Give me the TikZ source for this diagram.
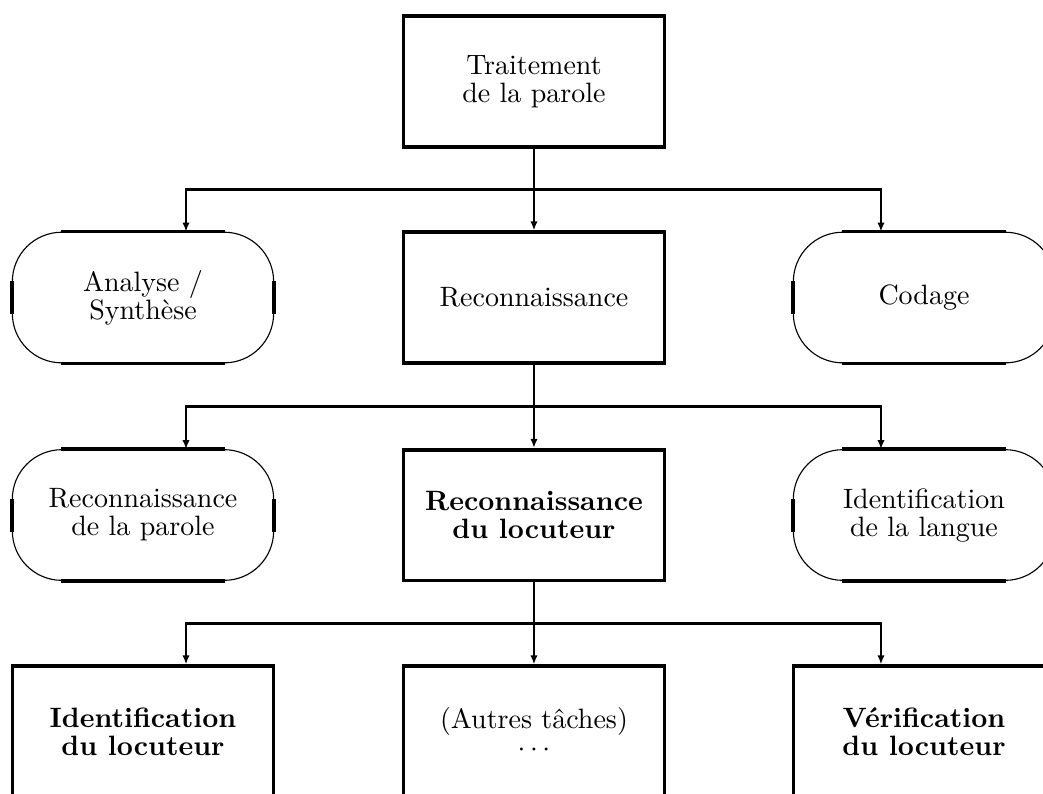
\documentclass[tikz,border=0pt]{standalone}
\usepackage{tikz}
\usetikzlibrary{
  arrows.meta,
  calc
}
\tikzset{
  every task/.style={minimum width=3.28cm,minimum height=1.64cm,align=center,inner sep=0pt,
    font=\fontsize{10}{10}\selectfont},
  task box/.style={every task,draw,line width=1.3pt},
  key task/.style={task box,font=\fontsize{10}{10}\selectfont\bfseries},
  task oval/.style={every task,draw,line width=0.4pt,rounded corners=0.62cm},
  oval side/.style={line width=1.3pt},
  to task/.style={line width=0.9pt,-{Latex[length=3.2pt,width=2.6pt]}},
}

\begin{document}
\begin{tikzpicture}
\clip (0,0) rectangle (13.093,-9.967);
\node[task box]  (trait)     at (6.703,-1.023) {Traitement\\de la parole};
\node[task oval] (anasyn)    at (1.795,-3.735) {Analyse /\\Synthèse};
\node[task box]  (reco)      at (6.703,-3.735) {Reconnaissance};
\node[task oval] (codage)    at (11.599,-3.735) {Codage};
\node[task oval] (recparole) at (1.795,-6.465) {Reconnaissance\\de la parole};
\node[key task]  (recloc)    at (6.703,-6.465) {Reconnaissance\\du locuteur};
\node[task oval] (idlangue)  at (11.599,-6.465) {Identification\\de la langue};
\node[key task]  (idloc)     at (1.795,-9.183) {Identification\\du locuteur};
\node[task box]  (autres)    at (6.703,-9.183) {(Autres tâches)\\$\cdots$};
\node[key task]  (verif)     at (11.599,-9.183) {Vérification\\du locuteur};
\foreach \n in {anasyn,codage,recparole,idlangue}
{
  \draw[oval side] ([xshift=0.62cm]\n.north west) -- ([xshift=-0.62cm]\n.north east)
    ([xshift=0.62cm]\n.south west) -- ([xshift=-0.62cm]\n.south east)
    ([yshift=-0.62cm]\n.north west) -- ([yshift=0.62cm]\n.south west)
    ([yshift=-0.62cm]\n.north east) -- ([yshift=0.62cm]\n.south east);
}
\foreach \src/\ctr/\lft/\rgt in {trait/reco/anasyn/codage,reco/recloc/recparole/idlangue,recloc/autres/idloc/verif}
{
  \coordinate (bus) at ($(\src.south)!0.5!(\ctr.north)$);
  \draw[to task] (\src.south) -- (\ctr.north);
  \draw[to task] (bus) -| ([xshift=0.54cm]\lft.north);
  \draw[to task] (bus) -| ([xshift=-0.54cm]\rgt.north);
}
\end{tikzpicture}
\end{document}
